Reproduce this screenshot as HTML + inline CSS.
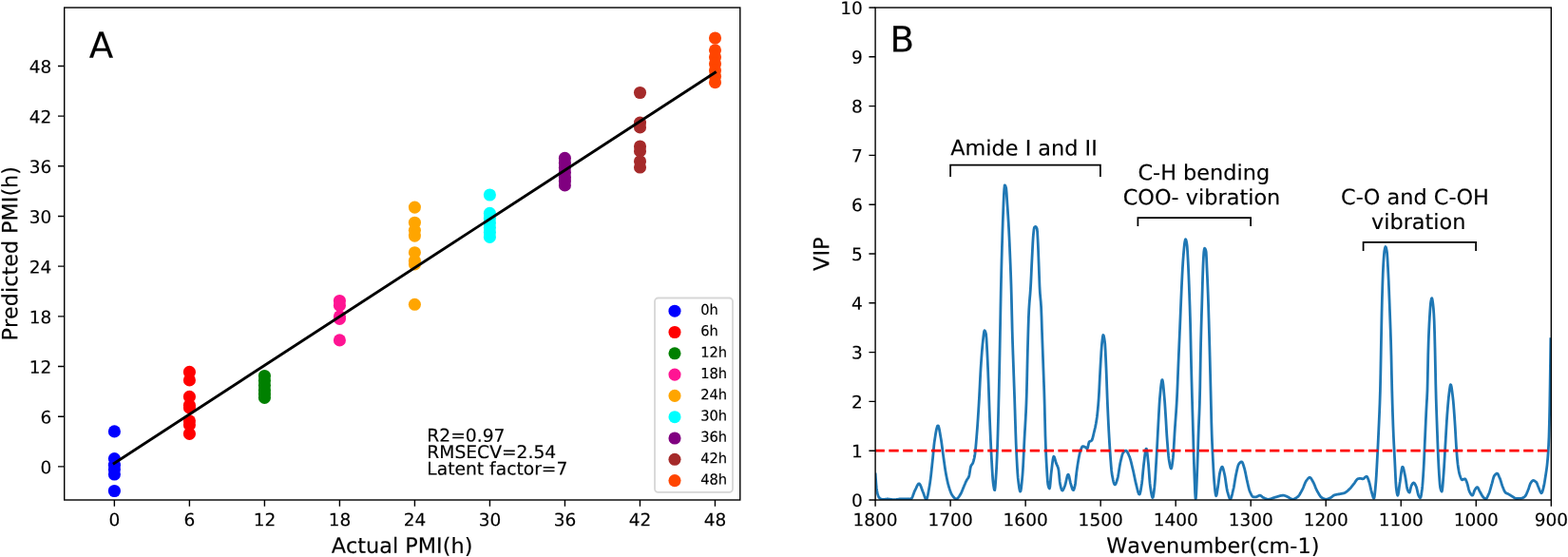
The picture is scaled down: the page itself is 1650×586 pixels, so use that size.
<!DOCTYPE html>
<html lang="en">
<head>
<meta charset="utf-8">
<title>PLS prediction of PMI and VIP scores</title>
<style>
html,body{margin:0;padding:0;background:#fff;}
body{width:1650px;height:586px;overflow:hidden;}
svg{display:block;}
text{white-space:pre;font-kerning:none;stroke:#000;stroke-width:0.15px;stroke-linejoin:round;}
</style>
</head>
<body>
<svg width="1650" height="586" viewBox="0 0 1650 586" font-family='"DejaVu Sans", "Liberation Sans", sans-serif' fill="#000">
<rect width="1650" height="586" fill="#fff"/>
<g id="panelA">
<g fill="#0000ff"><circle cx="120.4" cy="453.9" r="6.55"/><circle cx="120.4" cy="482.6" r="6.55"/><circle cx="120.4" cy="489.2" r="6.55"/><circle cx="120.4" cy="493.8" r="6.55"/><circle cx="120.4" cy="499.0" r="6.55"/><circle cx="120.4" cy="516.5" r="6.55"/></g>
<g fill="#ff0000"><circle cx="199.4" cy="391.4" r="6.55"/><circle cx="199.4" cy="399.9" r="6.55"/><circle cx="199.4" cy="417.4" r="6.55"/><circle cx="199.4" cy="426.4" r="6.55"/><circle cx="199.4" cy="428.9" r="6.55"/><circle cx="199.4" cy="442.8" r="6.55"/><circle cx="199.4" cy="446.9" r="6.55"/><circle cx="199.4" cy="456.4" r="6.55"/></g>
<g fill="#008000"><circle cx="278.4" cy="395.5" r="6.55"/><circle cx="278.4" cy="400.4" r="6.55"/><circle cx="278.4" cy="405.4" r="6.55"/><circle cx="278.4" cy="410.4" r="6.55"/><circle cx="278.4" cy="414.4" r="6.55"/><circle cx="278.4" cy="418.4" r="6.55"/></g>
<g fill="#ff1493"><circle cx="357.4" cy="316.5" r="6.55"/><circle cx="357.4" cy="321.4" r="6.55"/><circle cx="357.4" cy="332.9" r="6.55"/><circle cx="357.4" cy="335.4" r="6.55"/><circle cx="357.4" cy="357.9" r="6.55"/></g>
<g fill="#ffa500"><circle cx="436.4" cy="218.1" r="6.55"/><circle cx="436.4" cy="234.2" r="6.55"/><circle cx="436.4" cy="242.3" r="6.55"/><circle cx="436.4" cy="248.1" r="6.55"/><circle cx="436.4" cy="265.7" r="6.55"/><circle cx="436.4" cy="274.4" r="6.55"/><circle cx="436.4" cy="277.9" r="6.55"/><circle cx="436.4" cy="320.3" r="6.55"/></g>
<g fill="#00ffff"><circle cx="515.4" cy="205.0" r="6.55"/><circle cx="515.4" cy="224.4" r="6.55"/><circle cx="515.4" cy="229.4" r="6.55"/><circle cx="515.4" cy="234.4" r="6.55"/><circle cx="515.4" cy="239.4" r="6.55"/><circle cx="515.4" cy="244.4" r="6.55"/><circle cx="515.4" cy="249.4" r="6.55"/></g>
<g fill="#800080"><circle cx="594.4" cy="166.4" r="6.55"/><circle cx="594.4" cy="171.4" r="6.55"/><circle cx="594.4" cy="176.4" r="6.55"/><circle cx="594.4" cy="181.4" r="6.55"/><circle cx="594.4" cy="186.4" r="6.55"/><circle cx="594.4" cy="190.4" r="6.55"/><circle cx="594.4" cy="194.9" r="6.55"/></g>
<g fill="#a52a2a"><circle cx="673.5" cy="97.5" r="6.55"/><circle cx="673.5" cy="129.1" r="6.55"/><circle cx="673.5" cy="133.9" r="6.55"/><circle cx="673.5" cy="154.0" r="6.55"/><circle cx="673.5" cy="158.9" r="6.55"/><circle cx="673.5" cy="169.7" r="6.55"/><circle cx="673.5" cy="176.0" r="6.55"/></g>
<g fill="#ff4500"><circle cx="752.5" cy="40.0" r="6.55"/><circle cx="752.5" cy="52.8" r="6.55"/><circle cx="752.5" cy="59.9" r="6.55"/><circle cx="752.5" cy="66.9" r="6.55"/><circle cx="752.5" cy="73.9" r="6.55"/><circle cx="752.5" cy="80.4" r="6.55"/><circle cx="752.5" cy="86.7" r="6.55"/></g>
<line x1="120.1" y1="487.4" x2="752.5" y2="76.2" stroke="#000" stroke-width="2.9" stroke-linecap="square"/>
<rect x="67.7" y="8.0" width="711.1" height="518.0" fill="none" stroke="#000" stroke-width="1.4"/>
<path d="M120.37 526.0v6.7M67.7 490.88h-6.7M199.39 526.0v6.7M67.7 438.20h-6.7M278.40 526.0v6.7M67.7 385.53h-6.7M357.41 526.0v6.7M67.7 332.85h-6.7M436.42 526.0v6.7M67.7 280.17h-6.7M515.43 526.0v6.7M67.7 227.49h-6.7M594.44 526.0v6.7M67.7 174.81h-6.7M673.45 526.0v6.7M67.7 122.14h-6.7M752.46 526.0v6.7M67.7 69.46h-6.7" stroke="#000" stroke-width="1.4" fill="none"/>
<text transform="translate(120.37 553.20) rotate(0.03)" font-size="18.5" text-anchor="middle" >0</text>
<text transform="translate(54.40 498.18) rotate(0.03)" font-size="18.5" text-anchor="end" >0</text>
<text transform="translate(199.39 553.20) rotate(0.03)" font-size="18.5" text-anchor="middle" >6</text>
<text transform="translate(54.40 445.50) rotate(0.03)" font-size="18.5" text-anchor="end" >6</text>
<text transform="translate(278.40 553.20) rotate(0.03)" font-size="18.5" text-anchor="middle" >12</text>
<text transform="translate(54.40 392.83) rotate(0.03)" font-size="18.5" text-anchor="end" >12</text>
<text transform="translate(357.41 553.20) rotate(0.03)" font-size="18.5" text-anchor="middle" >18</text>
<text transform="translate(54.40 340.15) rotate(0.03)" font-size="18.5" text-anchor="end" >18</text>
<text transform="translate(436.42 553.20) rotate(0.03)" font-size="18.5" text-anchor="middle" >24</text>
<text transform="translate(54.40 287.47) rotate(0.03)" font-size="18.5" text-anchor="end" >24</text>
<text transform="translate(515.43 553.20) rotate(0.03)" font-size="18.5" text-anchor="middle" >30</text>
<text transform="translate(54.40 234.79) rotate(0.03)" font-size="18.5" text-anchor="end" >30</text>
<text transform="translate(594.44 553.20) rotate(0.03)" font-size="18.5" text-anchor="middle" >36</text>
<text transform="translate(54.40 182.11) rotate(0.03)" font-size="18.5" text-anchor="end" >36</text>
<text transform="translate(673.45 553.20) rotate(0.03)" font-size="18.5" text-anchor="middle" >42</text>
<text transform="translate(54.40 129.44) rotate(0.03)" font-size="18.5" text-anchor="end" >42</text>
<text transform="translate(752.46 553.20) rotate(0.03)" font-size="18.5" text-anchor="middle" >48</text>
<text transform="translate(54.40 76.76) rotate(0.03)" font-size="18.5" text-anchor="end" >48</text>
<text transform="translate(423.00 581.85) rotate(0.03)" font-size="22.4" text-anchor="middle" >Actual PMI(h)</text>
<text transform="translate(18.2 266.8) rotate(-90.03)" font-size="22.3" text-anchor="middle">Predicted PMI(h)</text>
<text transform="translate(93.80 60.70) rotate(0.03)" font-size="37.3" text-anchor="start" >A</text>
<text transform="translate(449.30 464.60) rotate(0.03)" font-size="18.7" text-anchor="start" >R2=0.97</text>
<text transform="translate(449.30 482.00) rotate(0.03)" font-size="18.7" text-anchor="start" >RMSECV=2.54</text>
<text transform="translate(449.30 499.40) rotate(0.03)" font-size="18.7" text-anchor="start" >Latent factor=7</text>
<rect x="689" y="313.5" width="82" height="204.4" rx="3.6" ry="3.6" fill="#fff" fill-opacity="0.8" stroke="#cccccc" stroke-opacity="0.8" stroke-width="1.8"/>
<circle cx="710" cy="327.2" r="6.55" fill="#0000ff"/>
<text transform="translate(737.20 331.05) rotate(0.03) scale(0.975 1)" font-size="15.05" text-anchor="start" >0h</text>
<circle cx="710" cy="349.5" r="6.55" fill="#ff0000"/>
<text transform="translate(737.20 353.35) rotate(0.03) scale(0.975 1)" font-size="15.05" text-anchor="start" >6h</text>
<circle cx="710" cy="371.8" r="6.55" fill="#008000"/>
<text transform="translate(737.20 375.65) rotate(0.03) scale(0.975 1)" font-size="15.05" text-anchor="start" >12h</text>
<circle cx="710" cy="394.1" r="6.55" fill="#ff1493"/>
<text transform="translate(737.20 397.95) rotate(0.03) scale(0.975 1)" font-size="15.05" text-anchor="start" >18h</text>
<circle cx="710" cy="416.4" r="6.55" fill="#ffa500"/>
<text transform="translate(737.20 420.25) rotate(0.03) scale(0.975 1)" font-size="15.05" text-anchor="start" >24h</text>
<circle cx="710" cy="438.7" r="6.55" fill="#00ffff"/>
<text transform="translate(737.20 442.55) rotate(0.03) scale(0.975 1)" font-size="15.05" text-anchor="start" >30h</text>
<circle cx="710" cy="461.0" r="6.55" fill="#800080"/>
<text transform="translate(737.20 464.85) rotate(0.03) scale(0.975 1)" font-size="15.05" text-anchor="start" >36h</text>
<circle cx="710" cy="483.3" r="6.55" fill="#a52a2a"/>
<text transform="translate(737.20 487.15) rotate(0.03) scale(0.975 1)" font-size="15.05" text-anchor="start" >42h</text>
<circle cx="710" cy="505.6" r="6.55" fill="#ff4500"/>
<text transform="translate(737.20 509.45) rotate(0.03) scale(0.975 1)" font-size="15.05" text-anchor="start" >48h</text>
</g>
<g id="panelB">
<clipPath id="clipB"><rect x="921.1" y="8.0" width="711.2" height="518.0"/></clipPath>
<g clip-path="url(#clipB)">
<path d="M921.2,498.9 921.6,504.6 922.0,509.8 922.4,514.0 922.8,516.5 923.2,518.3 923.6,519.9 924.0,521.2 924.4,522.3 924.8,523.1 925.2,523.6 925.6,524.0 926.0,524.3 926.4,524.6 926.8,524.9 927.2,525.1 927.6,525.3 928.0,525.4 928.4,525.5 928.8,525.5 929.2,525.5 929.6,525.5 930.0,525.4 930.4,525.4 930.8,525.3 931.2,525.3 931.6,525.2 932.0,525.1 932.4,525.1 932.8,525.1 933.2,525.0 933.6,525.0 934.0,525.0 934.4,525.0 934.8,525.0 935.2,525.1 935.6,525.1 936.0,525.2 936.4,525.2 936.8,525.3 937.2,525.3 937.6,525.4 938.0,525.5 938.4,525.5 938.8,525.6 939.2,525.6 939.6,525.7 940.0,525.7 940.4,525.7 940.8,525.7 941.2,525.7 941.6,525.7 942.0,525.6 942.4,525.6 942.8,525.6 943.2,525.5 943.6,525.4 944.0,525.4 944.4,525.3 944.8,525.3 945.2,525.2 945.6,525.1 946.0,525.1 946.4,525.0 946.8,525.0 947.2,524.9 947.6,524.9 948.0,524.8 948.4,524.8 948.8,524.8 949.2,524.8 949.6,524.8 950.0,524.8 950.4,524.8 950.8,524.8 951.2,524.8 951.6,524.8 952.0,524.8 952.4,524.9 952.8,524.9 953.2,524.9 953.6,524.9 954.0,524.9 954.4,524.9 954.8,524.9 955.2,524.9 955.6,525.0 956.0,525.0 956.4,525.0 956.8,525.0 957.2,525.0 957.6,525.0 958.0,525.0 958.4,525.0 958.8,524.9 959.2,524.5 959.6,523.9 960.0,523.1 960.4,522.2 960.8,521.1 961.2,520.0 961.6,518.9 962.0,517.8 962.4,516.8 962.8,516.0 963.2,515.2 963.6,514.4 964.0,513.5 964.4,512.6 964.8,511.7 965.2,510.9 965.6,510.2 966.0,509.6 966.4,509.1 966.8,508.9 967.2,508.8 967.6,509.0 968.0,509.5 968.4,510.2 968.8,511.1 969.2,512.1 969.6,513.2 970.0,514.3 970.4,515.4 970.8,516.5 971.2,517.5 971.6,518.4 972.0,519.5 972.4,520.7 972.8,521.9 973.2,523.0 973.6,524.0 974.0,524.7 974.4,525.2 974.8,525.3 975.2,524.8 975.6,523.9 976.0,522.5 976.4,520.7 976.8,518.7 977.2,516.5 977.6,514.2 978.0,511.9 978.4,509.6 978.8,506.9 979.2,503.9 979.6,500.6 980.0,497.0 980.4,493.2 980.8,489.4 981.2,485.6 981.6,481.8 982.0,477.7 982.4,473.2 982.8,468.9 983.2,465.4 983.6,462.7 984.0,460.1 984.4,457.5 984.8,455.1 985.2,452.9 985.6,451.0 986.0,449.5 986.4,448.4 986.8,447.8 987.2,447.8 987.6,448.5 988.0,449.8 988.4,451.6 988.8,453.7 989.2,456.0 989.6,458.4 990.0,460.7 990.4,463.1 990.8,465.7 991.2,468.7 991.6,471.8 992.0,474.9 992.4,477.9 992.8,480.8 993.2,483.7 993.6,486.6 994.0,489.5 994.4,492.3 994.8,494.9 995.2,497.2 995.6,499.4 996.0,501.5 996.4,503.5 996.8,505.4 997.2,507.2 997.6,508.9 998.0,510.4 998.4,511.8 998.8,513.1 999.2,514.4 999.6,515.6 1000.0,516.7 1000.4,517.7 1000.8,518.7 1001.2,519.6 1001.6,520.3 1002.0,521.0 1002.4,521.5 1002.8,522.1 1003.2,522.6 1003.6,523.1 1004.0,523.6 1004.4,524.0 1004.8,524.3 1005.2,524.6 1005.6,524.8 1006.0,525.0 1006.4,525.0 1006.8,524.9 1007.2,524.7 1007.6,524.4 1008.0,524.0 1008.4,523.5 1008.8,522.9 1009.2,522.4 1009.6,521.8 1010.0,521.1 1010.4,520.5 1010.8,519.9 1011.2,519.1 1011.6,518.3 1012.0,517.4 1012.4,516.4 1012.8,515.4 1013.2,514.4 1013.6,513.4 1014.0,512.5 1014.4,511.6 1014.8,510.6 1015.2,509.7 1015.6,508.8 1016.0,507.8 1016.4,506.9 1016.8,506.1 1017.2,505.3 1017.6,504.6 1018.0,504.0 1018.4,503.5 1018.8,502.9 1019.2,502.2 1019.6,501.3 1020.0,499.6 1020.4,497.2 1020.8,494.6 1021.2,492.2 1021.6,490.6 1022.0,489.7 1022.4,489.2 1022.8,488.7 1023.2,488.2 1023.6,487.4 1024.0,486.4 1024.4,485.2 1024.8,483.7 1025.2,482.0 1025.6,480.1 1026.0,477.5 1026.4,474.1 1026.8,470.0 1027.2,465.4 1027.6,460.5 1028.0,455.6 1028.4,450.5 1028.8,444.8 1029.2,438.8 1029.6,432.5 1030.0,425.9 1030.4,419.1 1030.8,411.4 1031.2,403.2 1031.6,395.3 1032.0,388.2 1032.4,382.1 1032.8,376.3 1033.2,371.0 1033.6,366.1 1034.0,361.9 1034.4,358.2 1034.8,354.5 1035.2,351.1 1035.6,348.6 1036.0,347.7 1036.4,348.0 1036.8,348.8 1037.2,350.0 1037.6,351.6 1038.0,355.6 1038.4,362.6 1038.8,370.1 1039.2,378.5 1039.6,387.9 1040.0,398.0 1040.4,408.8 1040.8,420.7 1041.2,432.5 1041.6,443.1 1042.0,452.8 1042.4,462.1 1042.8,470.7 1043.2,478.7 1043.6,485.9 1044.0,493.0 1044.4,499.6 1044.8,505.1 1045.2,508.9 1045.6,511.6 1046.0,513.8 1046.4,515.3 1046.8,515.6 1047.2,512.9 1047.6,508.0 1048.0,502.1 1048.4,496.0 1048.8,488.4 1049.2,479.5 1049.6,469.3 1050.0,456.9 1050.4,442.5 1050.8,426.7 1051.2,410.1 1051.6,391.5 1052.0,371.6 1052.4,351.2 1052.8,329.2 1053.2,308.3 1053.6,290.6 1054.0,274.9 1054.4,260.6 1054.8,247.2 1055.2,234.9 1055.6,224.0 1056.0,213.6 1056.4,204.6 1056.8,198.7 1057.2,195.0 1057.6,195.0 1058.0,195.7 1058.4,196.8 1058.8,198.4 1059.2,202.9 1059.6,209.2 1060.0,215.1 1060.4,220.9 1060.8,227.1 1061.2,233.7 1061.6,240.9 1062.0,249.0 1062.4,257.9 1062.8,267.5 1063.2,277.3 1063.6,287.7 1064.0,299.4 1064.4,313.9 1064.8,331.4 1065.2,348.2 1065.6,361.5 1066.0,373.2 1066.4,384.3 1066.8,395.7 1067.2,407.1 1067.6,418.6 1068.0,430.9 1068.4,443.9 1068.8,456.4 1069.2,467.4 1069.6,476.2 1070.0,484.3 1070.4,491.7 1070.8,498.0 1071.2,502.9 1071.6,506.4 1072.0,509.5 1072.4,512.4 1072.8,514.7 1073.2,516.3 1073.6,517.1 1074.0,516.6 1074.4,514.8 1074.8,511.8 1075.2,508.1 1075.6,503.9 1076.0,499.6 1076.4,493.8 1076.8,486.5 1077.2,478.3 1077.6,469.8 1078.0,461.8 1078.4,454.6 1078.8,447.8 1079.2,440.8 1079.6,433.1 1080.0,423.9 1080.4,411.9 1080.8,394.3 1081.2,376.2 1081.6,361.2 1082.0,346.7 1082.4,334.3 1082.8,325.3 1083.2,319.1 1083.6,314.2 1084.0,309.6 1084.4,304.2 1084.8,297.1 1085.2,288.7 1085.6,279.8 1086.0,271.6 1086.4,263.7 1086.8,255.9 1087.2,249.4 1087.6,244.9 1088.0,241.2 1088.4,239.3 1088.8,238.8 1089.2,238.5 1089.6,238.4 1090.0,238.6 1090.4,239.0 1090.8,239.7 1091.2,240.6 1091.6,243.6 1092.0,251.0 1092.4,259.4 1092.8,269.7 1093.2,280.4 1093.6,291.5 1094.0,301.7 1094.4,308.6 1094.8,313.2 1095.2,317.4 1095.6,323.1 1096.0,333.1 1096.4,345.8 1096.8,357.4 1097.2,368.3 1097.6,379.1 1098.0,390.0 1098.4,401.0 1098.8,412.3 1099.2,425.9 1099.6,443.0 1100.0,458.7 1100.4,469.9 1100.8,479.2 1101.2,487.2 1101.6,494.2 1102.0,500.9 1102.4,506.5 1102.8,509.9 1103.2,511.5 1103.6,512.8 1104.0,513.7 1104.4,514.0 1104.8,512.5 1105.2,508.8 1105.6,504.1 1106.0,499.4 1106.4,495.8 1106.8,492.6 1107.2,489.2 1107.6,485.9 1108.0,483.2 1108.4,481.2 1108.8,480.2 1109.2,480.4 1109.6,481.2 1110.0,482.4 1110.4,483.9 1110.8,485.4 1111.2,486.8 1111.6,487.9 1112.0,488.8 1112.4,489.7 1112.8,490.5 1113.2,491.5 1113.6,492.8 1114.0,494.7 1114.4,498.4 1114.8,502.8 1115.2,506.9 1115.6,509.4 1116.0,511.2 1116.4,512.8 1116.8,514.2 1117.2,515.3 1117.6,515.9 1118.0,516.1 1118.4,515.8 1118.8,515.2 1119.2,514.4 1119.6,513.5 1120.0,512.4 1120.4,511.4 1120.8,510.4 1121.2,509.0 1121.6,507.3 1122.0,505.5 1122.4,503.7 1122.8,502.0 1123.2,500.6 1123.6,499.6 1124.0,499.1 1124.4,499.4 1124.8,500.4 1125.2,502.1 1125.6,504.0 1126.0,506.0 1126.4,507.8 1126.8,509.2 1127.2,510.5 1127.6,511.9 1128.0,513.2 1128.4,514.3 1128.8,515.2 1129.2,515.6 1129.6,515.6 1130.0,515.0 1130.4,513.9 1130.8,512.5 1131.2,510.9 1131.6,508.5 1132.0,504.9 1132.4,501.0 1132.8,497.4 1133.2,494.4 1133.6,491.6 1134.0,488.9 1134.4,486.4 1134.8,484.0 1135.2,481.8 1135.6,479.8 1136.0,477.9 1136.4,476.1 1136.8,474.7 1137.2,473.6 1137.6,472.5 1138.0,471.5 1138.4,470.6 1138.8,470.0 1139.2,469.6 1139.6,469.6 1140.0,469.7 1140.4,469.7 1140.8,469.9 1141.2,470.0 1141.6,470.2 1142.0,470.4 1142.4,470.6 1142.8,471.0 1143.2,471.4 1143.6,471.8 1144.0,472.0 1144.4,471.6 1144.8,470.3 1145.2,468.5 1145.6,466.6 1146.0,465.2 1146.4,464.7 1146.8,464.4 1147.2,464.3 1147.6,464.1 1148.0,463.9 1148.4,463.7 1148.8,463.4 1149.2,462.7 1149.6,461.6 1150.0,460.2 1150.4,458.5 1150.8,456.7 1151.2,455.0 1151.6,453.4 1152.0,451.7 1152.4,450.0 1152.8,448.1 1153.2,446.1 1153.6,443.8 1154.0,441.3 1154.4,438.4 1154.8,434.9 1155.2,431.0 1155.6,426.5 1156.0,421.6 1156.4,415.5 1156.8,408.0 1157.2,399.9 1157.6,392.0 1158.0,384.9 1158.4,378.0 1158.8,371.2 1159.2,365.4 1159.6,361.0 1160.0,357.3 1160.4,354.1 1160.8,352.5 1161.2,352.7 1161.6,354.0 1162.0,356.0 1162.4,358.6 1162.8,362.0 1163.2,368.6 1163.6,377.4 1164.0,386.6 1164.4,396.7 1164.8,408.2 1165.2,419.1 1165.6,428.6 1166.0,437.5 1166.4,445.8 1166.8,453.5 1167.2,460.7 1167.6,467.6 1168.0,473.9 1168.4,479.6 1168.8,485.0 1169.2,490.2 1169.6,494.7 1170.0,498.1 1170.4,500.4 1170.8,502.6 1171.2,504.6 1171.6,506.3 1172.0,507.8 1172.4,508.9 1172.8,509.6 1173.2,509.9 1173.6,509.7 1174.0,509.1 1174.4,508.3 1174.8,507.2 1175.2,506.0 1175.6,504.8 1176.0,503.5 1176.4,501.8 1176.8,499.6 1177.2,497.1 1177.6,494.5 1178.0,491.9 1178.4,489.5 1178.8,487.3 1179.2,485.5 1179.6,483.8 1180.0,482.1 1180.4,480.5 1180.8,479.0 1181.2,477.7 1181.6,476.8 1182.0,476.1 1182.4,475.6 1182.8,475.2 1183.2,474.9 1183.6,474.5 1184.0,474.3 1184.4,474.2 1184.8,474.1 1185.2,474.2 1185.6,474.6 1186.0,475.1 1186.4,475.7 1186.8,476.5 1187.2,477.3 1187.6,478.2 1188.0,479.2 1188.4,480.1 1188.8,481.1 1189.2,482.4 1189.6,483.7 1190.0,485.2 1190.4,486.7 1190.8,488.3 1191.2,490.0 1191.6,491.7 1192.0,493.4 1192.4,495.0 1192.8,496.8 1193.2,498.7 1193.6,500.6 1194.0,502.6 1194.4,504.6 1194.8,506.4 1195.2,508.1 1195.6,509.7 1196.0,511.3 1196.4,513.0 1196.8,514.7 1197.2,516.2 1197.6,517.7 1198.0,518.8 1198.4,519.7 1198.8,520.1 1199.2,520.1 1199.6,519.2 1200.0,517.7 1200.4,515.7 1200.8,513.3 1201.2,510.8 1201.6,508.2 1202.0,504.9 1202.4,500.7 1202.8,496.2 1203.2,492.0 1203.6,488.4 1204.0,485.1 1204.4,481.7 1204.8,478.5 1205.2,475.6 1205.6,473.4 1206.0,472.2 1206.4,472.2 1206.8,473.8 1207.2,476.5 1207.6,479.9 1208.0,483.7 1208.4,487.3 1208.8,492.1 1209.2,497.7 1209.6,503.3 1210.0,508.2 1210.4,511.6 1210.8,514.4 1211.2,517.0 1211.6,519.3 1212.0,521.3 1212.4,522.7 1212.8,523.5 1213.2,523.4 1213.6,522.0 1214.0,519.5 1214.4,516.3 1214.8,513.0 1215.2,508.9 1215.6,503.6 1216.0,497.4 1216.4,490.7 1216.8,483.9 1217.2,477.2 1217.6,469.9 1218.0,462.2 1218.4,454.6 1218.8,447.2 1219.2,439.9 1219.6,432.5 1220.0,425.5 1220.4,419.7 1220.8,415.3 1221.2,411.0 1221.6,407.0 1222.0,403.6 1222.4,401.1 1222.8,399.7 1223.2,399.7 1223.6,401.5 1224.0,404.5 1224.4,408.5 1224.8,413.0 1225.2,417.5 1225.6,422.2 1226.0,427.9 1226.4,434.1 1226.8,440.4 1227.2,447.4 1227.6,454.3 1228.0,460.4 1228.4,465.7 1228.8,470.8 1229.2,475.5 1229.6,479.7 1230.0,483.0 1230.4,485.5 1230.8,487.7 1231.2,489.7 1231.6,491.4 1232.0,492.5 1232.4,492.9 1232.8,492.2 1233.2,490.4 1233.6,487.8 1234.0,484.7 1234.4,481.4 1234.8,476.6 1235.2,470.4 1235.6,463.4 1236.0,456.4 1236.4,450.1 1236.8,444.5 1237.2,439.0 1237.6,433.5 1238.0,427.4 1238.4,420.6 1238.8,412.3 1239.2,402.6 1239.6,392.4 1240.0,382.5 1240.4,373.1 1240.8,363.8 1241.2,354.5 1241.6,345.1 1242.0,335.6 1242.4,325.8 1242.8,316.0 1243.2,306.7 1243.6,298.0 1244.0,289.7 1244.4,282.3 1244.8,275.9 1245.2,270.3 1245.6,265.4 1246.0,260.9 1246.4,256.9 1246.8,254.2 1247.2,252.5 1247.6,251.7 1248.0,252.3 1248.4,253.8 1248.8,256.0 1249.2,258.9 1249.6,264.5 1250.0,271.8 1250.4,279.6 1250.8,288.6 1251.2,298.7 1251.6,309.7 1252.0,321.3 1252.4,334.3 1252.8,349.9 1253.2,368.9 1253.6,386.6 1254.0,402.2 1254.4,417.0 1254.8,431.2 1255.2,444.8 1255.6,458.7 1256.0,473.3 1256.4,486.8 1256.8,497.9 1257.2,509.0 1257.6,518.6 1258.0,524.5 1258.4,524.5 1258.8,519.1 1259.2,510.3 1259.6,500.0 1260.0,490.1 1260.4,478.9 1260.8,466.5 1261.2,454.4 1261.6,444.1 1262.0,434.9 1262.4,423.9 1262.8,406.9 1263.2,383.3 1263.6,362.0 1264.0,346.2 1264.4,332.3 1264.8,319.2 1265.2,305.5 1265.6,291.2 1266.0,279.8 1266.4,271.4 1266.8,265.1 1267.2,262.4 1267.6,261.3 1268.0,261.5 1268.4,262.2 1268.8,263.3 1269.2,265.1 1269.6,271.9 1270.0,281.6 1270.4,290.3 1270.8,299.6 1271.2,309.8 1271.6,321.4 1272.0,334.7 1272.4,348.6 1272.8,363.4 1273.2,378.6 1273.6,394.3 1274.0,410.5 1274.4,427.2 1274.8,444.5 1275.2,457.4 1275.6,467.6 1276.0,476.3 1276.4,484.3 1276.8,492.0 1277.2,499.2 1277.6,505.3 1278.0,509.9 1278.4,514.0 1278.8,517.6 1279.2,520.4 1279.6,521.7 1280.0,521.4 1280.4,519.9 1280.8,517.6 1281.2,514.9 1281.6,512.2 1282.0,509.6 1282.4,506.5 1282.8,503.2 1283.2,500.0 1283.6,497.5 1284.0,495.9 1284.4,494.5 1284.8,493.2 1285.2,492.2 1285.6,491.5 1286.0,491.1 1286.4,491.3 1286.8,492.1 1287.2,493.3 1287.6,494.8 1288.0,496.5 1288.4,498.2 1288.8,500.0 1289.2,502.3 1289.6,504.9 1290.0,507.7 1290.4,510.5 1290.8,513.1 1291.2,515.4 1291.6,517.1 1292.0,518.5 1292.4,519.9 1292.8,521.3 1293.2,522.5 1293.6,523.5 1294.0,524.3 1294.4,524.8 1294.8,524.9 1295.2,524.5 1295.6,523.6 1296.0,522.4 1296.4,520.9 1296.8,519.3 1297.2,517.5 1297.6,515.8 1298.0,514.1 1298.4,512.2 1298.8,509.9 1299.2,507.6 1299.6,505.1 1300.0,502.8 1300.4,500.5 1300.8,498.6 1301.2,496.8 1301.6,494.9 1302.0,493.1 1302.4,491.5 1302.8,490.0 1303.2,488.9 1303.6,488.3 1304.0,487.7 1304.4,487.2 1304.8,486.8 1305.2,486.4 1305.6,486.1 1306.0,485.9 1306.4,485.8 1306.8,485.9 1307.2,486.3 1307.6,487.0 1308.0,488.0 1308.4,489.2 1308.8,490.5 1309.2,491.9 1309.6,493.2 1310.0,494.8 1310.4,496.6 1310.8,498.5 1311.2,500.5 1311.6,502.5 1312.0,504.4 1312.4,506.1 1312.8,507.9 1313.2,509.7 1313.6,511.5 1314.0,513.2 1314.4,514.7 1314.8,516.0 1315.2,517.1 1315.6,518.0 1316.0,518.9 1316.4,519.7 1316.8,520.5 1317.2,521.2 1317.6,521.8 1318.0,522.3 1318.4,522.6 1318.8,522.8 1319.2,522.8 1319.6,522.8 1320.0,522.8 1320.4,522.8 1320.8,522.8 1321.2,522.8 1321.6,522.8 1322.0,522.8 1322.4,522.7 1322.8,522.5 1323.2,522.3 1323.6,522.1 1324.0,521.9 1324.4,521.6 1324.8,521.4 1325.2,521.3 1325.6,521.2 1326.0,521.2 1326.4,521.3 1326.8,521.5 1327.2,521.8 1327.6,522.1 1328.0,522.5 1328.4,522.8 1328.8,523.2 1329.2,523.4 1329.6,523.6 1330.0,523.8 1330.4,524.0 1330.8,524.2 1331.2,524.4 1331.6,524.6 1332.0,524.7 1332.4,524.9 1332.8,525.0 1333.2,525.1 1333.6,525.2 1334.0,525.3 1334.4,525.3 1334.8,525.3 1335.2,525.3 1335.6,525.2 1336.0,525.1 1336.4,525.1 1336.8,525.0 1337.2,524.8 1337.6,524.7 1338.0,524.6 1338.4,524.4 1338.8,524.3 1339.2,524.1 1339.6,523.9 1340.0,523.8 1340.4,523.6 1340.8,523.5 1341.2,523.4 1341.6,523.3 1342.0,523.1 1342.4,523.0 1342.8,522.9 1343.2,522.8 1343.6,522.7 1344.0,522.6 1344.4,522.4 1344.8,522.3 1345.2,522.2 1345.6,522.1 1346.0,521.9 1346.4,521.8 1346.8,521.7 1347.2,521.6 1347.6,521.5 1348.0,521.5 1348.4,521.4 1348.8,521.3 1349.2,521.3 1349.6,521.2 1350.0,521.2 1350.4,521.2 1350.8,521.2 1351.2,521.3 1351.6,521.4 1352.0,521.5 1352.4,521.6 1352.8,521.8 1353.2,522.0 1353.6,522.1 1354.0,522.3 1354.4,522.5 1354.8,522.7 1355.2,522.8 1355.6,523.0 1356.0,523.3 1356.4,523.5 1356.8,523.8 1357.2,524.0 1357.6,524.3 1358.0,524.5 1358.4,524.8 1358.8,525.0 1359.2,525.1 1359.6,525.2 1360.0,525.3 1360.4,525.3 1360.8,525.3 1361.2,525.2 1361.6,525.1 1362.0,524.9 1362.4,524.7 1362.8,524.5 1363.2,524.3 1363.6,524.1 1364.0,523.8 1364.4,523.5 1364.8,523.2 1365.2,522.9 1365.6,522.6 1366.0,522.3 1366.4,521.8 1366.8,521.3 1367.2,520.8 1367.6,520.2 1368.0,519.5 1368.4,518.8 1368.8,518.1 1369.2,517.4 1369.6,516.7 1370.0,515.9 1370.4,515.2 1370.8,514.4 1371.2,513.5 1371.6,512.6 1372.0,511.6 1372.4,510.5 1372.8,509.5 1373.2,508.5 1373.6,507.6 1374.0,506.8 1374.4,506.1 1374.8,505.5 1375.2,505.0 1375.6,504.5 1376.0,504.0 1376.4,503.5 1376.8,503.1 1377.2,502.7 1377.6,502.5 1378.0,502.3 1378.4,502.3 1378.8,502.5 1379.2,502.8 1379.6,503.3 1380.0,503.9 1380.4,504.6 1380.8,505.3 1381.2,506.0 1381.6,506.7 1382.0,507.4 1382.4,508.2 1382.8,509.1 1383.2,510.1 1383.6,511.1 1384.0,512.1 1384.4,513.1 1384.8,514.0 1385.2,514.9 1385.6,515.7 1386.0,516.5 1386.4,517.2 1386.8,517.9 1387.2,518.6 1387.6,519.3 1388.0,520.0 1388.4,520.6 1388.8,521.2 1389.2,521.8 1389.6,522.3 1390.0,522.8 1390.4,523.2 1390.8,523.5 1391.2,523.7 1391.6,523.9 1392.0,524.2 1392.4,524.4 1392.8,524.6 1393.2,524.8 1393.6,524.9 1394.0,525.1 1394.4,525.2 1394.8,525.2 1395.2,525.3 1395.6,525.3 1396.0,525.3 1396.4,525.2 1396.8,525.1 1397.2,525.0 1397.6,524.8 1398.0,524.7 1398.4,524.5 1398.8,524.3 1399.2,524.1 1399.6,523.9 1400.0,523.7 1400.4,523.5 1400.8,523.3 1401.2,523.0 1401.6,522.7 1402.0,522.3 1402.4,522.0 1402.8,521.7 1403.2,521.4 1403.6,521.1 1404.0,520.9 1404.4,520.8 1404.8,520.7 1405.2,520.6 1405.6,520.5 1406.0,520.4 1406.4,520.3 1406.8,520.2 1407.2,520.2 1407.6,520.1 1408.0,520.0 1408.4,520.0 1408.8,519.9 1409.2,519.8 1409.6,519.8 1410.0,519.7 1410.4,519.6 1410.8,519.5 1411.2,519.5 1411.6,519.4 1412.0,519.3 1412.4,519.2 1412.8,519.2 1413.2,519.1 1413.6,519.0 1414.0,518.9 1414.4,518.7 1414.8,518.6 1415.2,518.4 1415.6,518.2 1416.0,518.0 1416.4,517.7 1416.8,517.4 1417.2,517.1 1417.6,516.8 1418.0,516.4 1418.4,516.1 1418.8,515.7 1419.2,515.4 1419.6,515.0 1420.0,514.6 1420.4,514.2 1420.8,513.8 1421.2,513.4 1421.6,512.9 1422.0,512.4 1422.4,511.9 1422.8,511.4 1423.2,510.9 1423.6,510.4 1424.0,509.9 1424.4,509.4 1424.8,508.9 1425.2,508.4 1425.6,507.8 1426.0,507.1 1426.4,506.5 1426.8,505.9 1427.2,505.3 1427.6,504.8 1428.0,504.3 1428.4,504.0 1428.8,503.8 1429.2,503.7 1429.6,503.6 1430.0,503.5 1430.4,503.5 1430.8,503.4 1431.2,503.4 1431.6,503.4 1432.0,503.5 1432.4,503.5 1432.8,503.6 1433.2,503.7 1433.6,503.8 1434.0,503.8 1434.4,503.7 1434.8,503.6 1435.2,503.3 1435.6,503.0 1436.0,502.6 1436.4,502.2 1436.8,501.9 1437.2,501.6 1437.6,501.4 1438.0,501.3 1438.4,501.4 1438.8,501.9 1439.2,502.7 1439.6,503.7 1440.0,504.8 1440.4,506.0 1440.8,507.2 1441.2,508.6 1441.6,510.3 1442.0,512.1 1442.4,513.9 1442.8,515.6 1443.2,517.1 1443.6,518.5 1444.0,520.0 1444.4,521.4 1444.8,522.7 1445.2,523.7 1445.6,524.2 1446.0,524.0 1446.4,522.1 1446.8,518.7 1447.2,514.5 1447.6,510.0 1448.0,505.1 1448.4,498.8 1448.8,491.6 1449.2,484.1 1449.6,476.7 1450.0,468.8 1450.4,460.4 1450.8,451.6 1451.2,442.7 1451.6,433.5 1452.0,423.2 1452.4,410.6 1452.8,392.4 1453.2,370.7 1453.6,350.2 1454.0,329.9 1454.4,313.7 1454.8,300.3 1455.2,288.8 1455.6,279.8 1456.0,273.2 1456.4,267.8 1456.8,264.0 1457.2,261.9 1457.6,260.2 1458.0,259.6 1458.4,260.1 1458.8,261.5 1459.2,263.5 1459.6,266.2 1460.0,271.6 1460.4,278.9 1460.8,286.6 1461.2,294.8 1461.6,304.2 1462.0,314.3 1462.4,324.8 1462.8,335.5 1463.2,346.5 1463.6,358.7 1464.0,373.7 1464.4,392.8 1464.8,410.6 1465.2,424.9 1465.6,437.7 1466.0,449.0 1466.4,458.7 1466.8,467.2 1467.2,474.9 1467.6,482.5 1468.0,490.6 1468.4,499.5 1468.8,507.7 1469.2,513.0 1469.6,516.1 1470.0,518.7 1470.4,520.5 1470.8,521.2 1471.2,520.4 1471.6,518.3 1472.0,515.5 1472.4,512.4 1472.8,509.5 1473.2,507.0 1473.6,504.0 1474.0,500.9 1474.4,497.8 1474.8,495.0 1475.2,492.8 1475.6,491.4 1476.0,491.1 1476.4,491.6 1476.8,492.7 1477.2,494.2 1477.6,496.0 1478.0,497.9 1478.4,499.8 1478.8,501.7 1479.2,504.0 1479.6,506.7 1480.0,509.5 1480.4,512.0 1480.8,514.0 1481.2,515.2 1481.6,516.2 1482.0,517.0 1482.4,517.6 1482.8,518.0 1483.2,518.1 1483.6,517.2 1484.0,515.7 1484.4,513.8 1484.8,512.1 1485.2,510.9 1485.6,510.2 1486.0,509.5 1486.4,508.8 1486.8,508.3 1487.2,508.0 1487.6,507.9 1488.0,508.0 1488.4,508.4 1488.8,509.0 1489.2,509.7 1489.6,510.5 1490.0,511.3 1490.4,512.2 1490.8,513.6 1491.2,515.3 1491.6,517.1 1492.0,518.9 1492.4,520.4 1492.8,521.4 1493.2,522.2 1493.6,522.9 1494.0,523.4 1494.4,523.8 1494.8,523.6 1495.2,522.5 1495.6,520.4 1496.0,517.8 1496.4,515.0 1496.8,511.4 1497.2,506.4 1497.6,500.6 1498.0,494.2 1498.4,486.9 1498.8,478.1 1499.2,468.6 1499.6,459.6 1500.0,450.6 1500.4,441.7 1500.8,433.1 1501.2,425.7 1501.6,419.2 1502.0,410.6 1502.4,393.9 1502.8,373.4 1503.2,359.7 1503.6,349.4 1504.0,340.8 1504.4,333.7 1504.8,327.4 1505.2,321.9 1505.6,317.9 1506.0,315.7 1506.4,314.0 1506.8,313.7 1507.2,314.9 1507.6,317.4 1508.0,320.6 1508.4,324.4 1508.8,330.2 1509.2,337.8 1509.6,349.9 1510.0,365.6 1510.4,384.3 1510.8,404.3 1511.2,419.7 1511.6,432.3 1512.0,443.5 1512.4,454.3 1512.8,465.1 1513.2,475.5 1513.6,484.8 1514.0,492.5 1514.4,499.1 1514.8,505.2 1515.2,510.1 1515.6,513.0 1516.0,514.6 1516.4,515.9 1516.8,516.8 1517.2,517.1 1517.6,515.8 1518.0,512.5 1518.4,507.8 1518.8,502.6 1519.2,497.4 1519.6,491.4 1520.0,484.5 1520.4,477.3 1520.8,470.4 1521.2,463.5 1521.6,456.4 1522.0,449.5 1522.4,443.0 1522.8,437.2 1523.2,431.9 1523.6,426.9 1524.0,422.3 1524.4,418.2 1524.8,414.7 1525.2,411.5 1525.6,408.4 1526.0,405.9 1526.4,404.7 1526.8,404.9 1527.2,406.3 1527.6,408.6 1528.0,411.4 1528.4,414.7 1528.8,418.0 1529.2,421.5 1529.6,426.0 1530.0,431.1 1530.4,436.7 1530.8,442.5 1531.2,448.5 1531.6,455.3 1532.0,462.5 1532.4,469.2 1532.8,474.8 1533.2,480.1 1533.6,484.7 1534.0,488.4 1534.4,491.3 1534.8,493.8 1535.2,496.0 1535.6,497.9 1536.0,499.4 1536.4,500.6 1536.8,501.8 1537.2,502.8 1537.6,503.7 1538.0,504.4 1538.4,504.8 1538.8,504.8 1539.2,504.7 1539.6,504.5 1540.0,504.3 1540.4,504.2 1540.8,504.0 1541.2,503.8 1541.6,503.8 1542.0,504.0 1542.4,504.7 1542.8,505.6 1543.2,506.6 1543.6,507.6 1544.0,508.8 1544.4,510.2 1544.8,511.8 1545.2,513.5 1545.6,515.1 1546.0,516.4 1546.4,517.3 1546.8,518.1 1547.2,518.8 1547.6,519.5 1548.0,520.1 1548.4,520.6 1548.8,521.0 1549.2,521.2 1549.6,521.1 1550.0,520.6 1550.4,519.6 1550.8,518.5 1551.2,517.2 1551.6,516.1 1552.0,515.3 1552.4,514.7 1552.8,514.1 1553.2,513.5 1553.6,513.1 1554.0,512.8 1554.4,512.6 1554.8,512.7 1555.2,513.1 1555.6,513.8 1556.0,514.6 1556.4,515.5 1556.8,516.4 1557.2,517.1 1557.6,517.8 1558.0,518.5 1558.4,519.3 1558.8,520.0 1559.2,520.7 1559.6,521.4 1560.0,522.0 1560.4,522.6 1560.8,523.0 1561.2,523.4 1561.6,523.9 1562.0,524.2 1562.4,524.6 1562.8,524.8 1563.2,524.9 1563.6,524.8 1564.0,524.6 1564.4,524.1 1564.8,523.5 1565.2,522.7 1565.6,521.9 1566.0,521.0 1566.4,520.1 1566.8,519.2 1567.2,518.2 1567.6,517.0 1568.0,515.7 1568.4,514.3 1568.8,512.8 1569.2,511.4 1569.6,509.9 1570.0,508.6 1570.4,507.1 1570.8,505.5 1571.2,504.0 1571.6,502.6 1572.0,501.5 1572.4,500.7 1572.8,500.2 1573.2,499.6 1573.6,499.2 1574.0,498.8 1574.4,498.5 1574.8,498.2 1575.2,498.1 1575.6,498.1 1576.0,498.5 1576.4,499.0 1576.8,499.8 1577.2,500.7 1577.6,501.7 1578.0,502.6 1578.4,503.5 1578.8,504.6 1579.2,505.8 1579.6,507.1 1580.0,508.5 1580.4,509.7 1580.8,510.9 1581.2,512.0 1581.6,513.0 1582.0,514.0 1582.4,515.0 1582.8,515.9 1583.2,516.8 1583.6,517.5 1584.0,518.0 1584.4,518.4 1584.8,518.6 1585.2,518.9 1585.6,519.0 1586.0,519.2 1586.4,519.4 1586.8,519.5 1587.2,519.7 1587.6,520.0 1588.0,520.2 1588.4,520.4 1588.8,520.7 1589.2,520.9 1589.6,521.2 1590.0,521.5 1590.4,521.7 1590.8,521.9 1591.2,522.2 1591.6,522.4 1592.0,522.7 1592.4,523.0 1592.8,523.2 1593.2,523.5 1593.6,523.8 1594.0,524.0 1594.4,524.2 1594.8,524.4 1595.2,524.5 1595.6,524.5 1596.0,524.5 1596.4,524.5 1596.8,524.5 1597.2,524.5 1597.6,524.5 1598.0,524.4 1598.4,524.4 1598.8,524.4 1599.2,524.4 1599.6,524.4 1600.0,524.3 1600.4,524.3 1600.8,524.3 1601.2,524.2 1601.6,524.1 1602.0,524.0 1602.4,523.8 1602.8,523.6 1603.2,523.4 1603.6,523.1 1604.0,522.8 1604.4,522.5 1604.8,522.2 1605.2,521.7 1605.6,521.1 1606.0,520.3 1606.4,519.4 1606.8,518.5 1607.2,517.5 1607.6,516.6 1608.0,515.6 1608.4,514.5 1608.8,513.4 1609.2,512.1 1609.6,510.9 1610.0,509.8 1610.4,508.8 1610.8,508.1 1611.2,507.5 1611.6,506.9 1612.0,506.4 1612.4,506.0 1612.8,505.7 1613.2,505.5 1613.6,505.5 1614.0,505.6 1614.4,505.7 1614.8,505.9 1615.2,506.2 1615.6,506.5 1616.0,506.8 1616.4,507.1 1616.8,507.5 1617.2,508.2 1617.6,509.1 1618.0,510.2 1618.4,511.3 1618.8,512.3 1619.2,513.2 1619.6,514.2 1620.0,515.2 1620.4,516.2 1620.8,517.1 1621.2,517.9 1621.6,518.5 1622.0,518.8 1622.4,518.6 1622.8,517.9 1623.2,516.7 1623.6,515.3 1624.0,513.8 1624.4,512.2 1624.8,510.4 1625.2,508.2 1625.6,505.8 1626.0,503.3 1626.4,500.7 1626.8,498.1 1627.2,495.5 1627.6,492.6 1628.0,489.3 1628.4,485.4 1628.8,480.8 1629.2,475.2 1629.6,468.2 1630.0,459.2 1630.4,444.8 1630.8,425.9 1631.2,400.6 1631.6,372.2 1631.8,356.6" fill="none" stroke="#1f77b4" stroke-width="2.8" stroke-linejoin="round" stroke-linecap="square"/>
<line x1="921.1" y1="474.20" x2="1632.3" y2="474.20" stroke="#ff0000" stroke-width="2.8" stroke-dasharray="10.36 4.48" stroke-dashoffset="0.6"/>
</g>
<rect x="921.1" y="8.0" width="711.2" height="518.0" fill="none" stroke="#000" stroke-width="1.4"/>
<path d="M921.10 526.0v6.7M1000.12 526.0v6.7M1079.14 526.0v6.7M1158.17 526.0v6.7M1237.19 526.0v6.7M1316.21 526.0v6.7M1395.23 526.0v6.7M1474.26 526.0v6.7M1553.28 526.0v6.7M1632.30 526.0v6.7M921.1 526.00h-6.7M921.1 474.20h-6.7M921.1 422.40h-6.7M921.1 370.60h-6.7M921.1 318.80h-6.7M921.1 267.00h-6.7M921.1 215.20h-6.7M921.1 163.40h-6.7M921.1 111.60h-6.7M921.1 59.80h-6.7M921.1 8.00h-6.7" stroke="#000" stroke-width="1.4" fill="none"/>
<text transform="translate(921.10 553.20) rotate(0.03)" font-size="18.5" text-anchor="middle" >1800</text>
<text transform="translate(1000.12 553.20) rotate(0.03)" font-size="18.5" text-anchor="middle" >1700</text>
<text transform="translate(1079.14 553.20) rotate(0.03)" font-size="18.5" text-anchor="middle" >1600</text>
<text transform="translate(1158.17 553.20) rotate(0.03)" font-size="18.5" text-anchor="middle" >1500</text>
<text transform="translate(1237.19 553.20) rotate(0.03)" font-size="18.5" text-anchor="middle" >1400</text>
<text transform="translate(1316.21 553.20) rotate(0.03)" font-size="18.5" text-anchor="middle" >1300</text>
<text transform="translate(1395.23 553.20) rotate(0.03)" font-size="18.5" text-anchor="middle" >1200</text>
<text transform="translate(1474.26 553.20) rotate(0.03)" font-size="18.5" text-anchor="middle" >1100</text>
<text transform="translate(1553.28 553.20) rotate(0.03)" font-size="18.5" text-anchor="middle" >1000</text>
<text transform="translate(1632.30 553.20) rotate(0.03)" font-size="18.5" text-anchor="middle" >900</text>
<text transform="translate(907.80 533.00) rotate(0.03)" font-size="18.5" text-anchor="end" >0</text>
<text transform="translate(907.80 481.20) rotate(0.03)" font-size="18.5" text-anchor="end" >1</text>
<text transform="translate(907.80 429.40) rotate(0.03)" font-size="18.5" text-anchor="end" >2</text>
<text transform="translate(907.80 377.60) rotate(0.03)" font-size="18.5" text-anchor="end" >3</text>
<text transform="translate(907.80 325.80) rotate(0.03)" font-size="18.5" text-anchor="end" >4</text>
<text transform="translate(907.80 274.00) rotate(0.03)" font-size="18.5" text-anchor="end" >5</text>
<text transform="translate(907.80 222.20) rotate(0.03)" font-size="18.5" text-anchor="end" >6</text>
<text transform="translate(907.80 170.40) rotate(0.03)" font-size="18.5" text-anchor="end" >7</text>
<text transform="translate(907.80 118.60) rotate(0.03)" font-size="18.5" text-anchor="end" >8</text>
<text transform="translate(907.80 66.80) rotate(0.03)" font-size="18.5" text-anchor="end" >9</text>
<text transform="translate(907.80 15.00) rotate(0.03)" font-size="18.5" text-anchor="end" >10</text>
<text transform="translate(1276.30 581.85) rotate(0.03)" font-size="22.4" text-anchor="middle" >Wavenumber(cm-1)</text>
<text transform="translate(872.2 267.2) rotate(-90.03)" font-size="22.4" text-anchor="middle">VIP</text>
<text transform="translate(936.60 54.60) rotate(0.03)" font-size="37.3" text-anchor="start" >B</text>
<path d="M1000.1 186.1V173.7H1157.9V186.1" fill="none" stroke="#000" stroke-width="1.75" stroke-linecap="butt" stroke-linejoin="miter"/>
<path d="M1197.4 237.9V229.2H1316.1V237.9" fill="none" stroke="#000" stroke-width="1.75" stroke-linecap="butt" stroke-linejoin="miter"/>
<path d="M1434.6 264.0V254.8H1553.1V264.0" fill="none" stroke="#000" stroke-width="1.75" stroke-linecap="butt" stroke-linejoin="miter"/>
<text transform="translate(1077.50 163.40) rotate(0.03)" font-size="22.4" text-anchor="middle" >Amide I and II</text>
<text transform="translate(1266.80 189.30) rotate(0.03)" font-size="22.4" text-anchor="middle" >C-H bending</text>
<text transform="translate(1264.50 215.30) rotate(0.03)" font-size="22.4" text-anchor="middle" >COO- vibration</text>
<text transform="translate(1489.00 215.10) rotate(0.03)" font-size="22.4" text-anchor="middle" >C-O and C-OH</text>
<text transform="translate(1492.70 241.10) rotate(0.03)" font-size="22.4" text-anchor="middle" >vibration</text>
</g>
</svg>
</body>
</html>
